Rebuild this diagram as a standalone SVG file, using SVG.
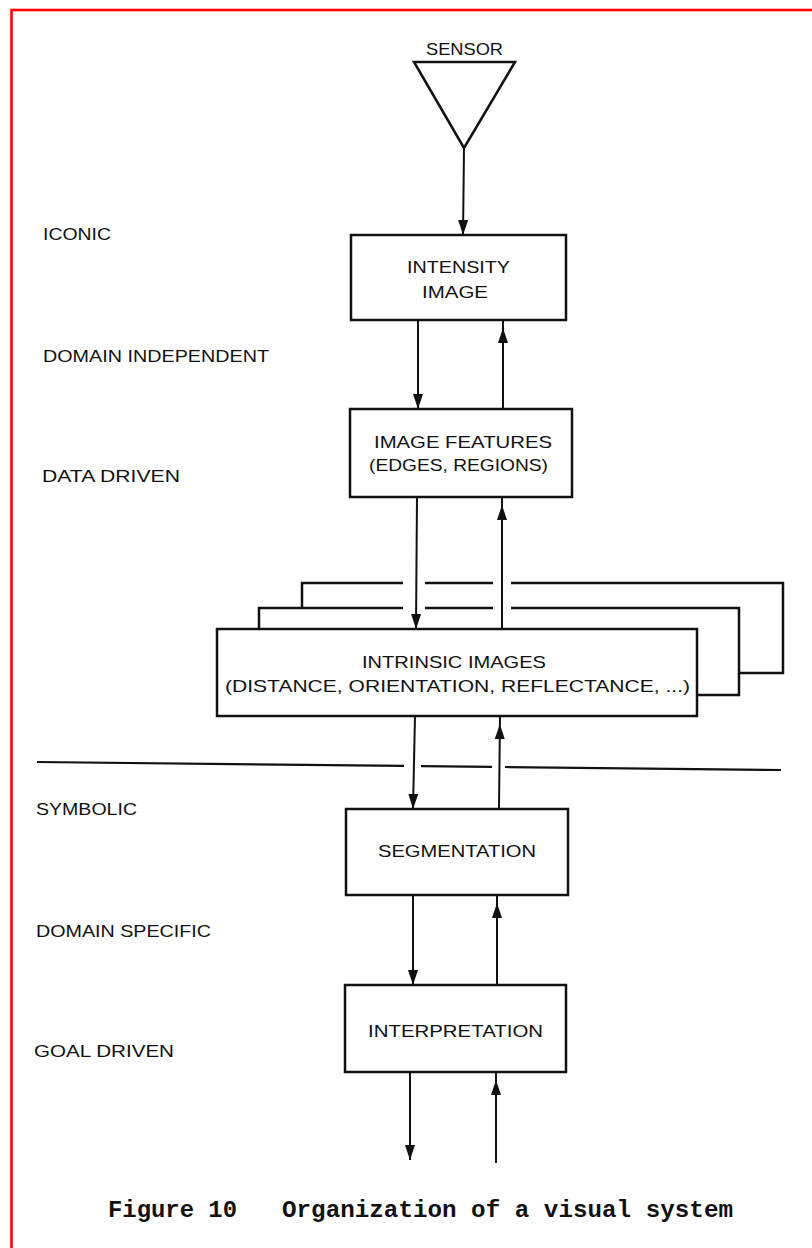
<svg xmlns="http://www.w3.org/2000/svg" width="812" height="1248" viewBox="0 0 812 1248">
<style>
.bg{fill:#ffffff}
.frame{fill:none;stroke:#ff0000;stroke-width:2.6}
.box{fill:#ffffff;stroke:#111111;stroke-width:2.5}
.edge{fill:none;stroke:#111111;stroke-width:2.5}
.div{fill:none;stroke:#111111;stroke-width:2.2}
.ln{fill:none;stroke:#111111;stroke-width:2}
.lbl{font-family:"Liberation Sans",Arial,sans-serif;font-size:17px;fill:#111111}
.cap{font-family:"Liberation Mono","Courier New",monospace;font-size:24px;font-weight:bold;fill:#111111}
</style>
<defs>
<marker id="down" viewBox="0 -6 16 12" markerWidth="16" markerHeight="12" refX="15" refY="0" orient="auto" markerUnits="userSpaceOnUse"><path d="M0,-5 L15,0 L0,5 Z" fill="#111111"/></marker>
<marker id="up" viewBox="0 -6 24 12" markerWidth="24" markerHeight="12" refX="23" refY="0" orient="auto" markerUnits="userSpaceOnUse"><path d="M0,-5 L15,0 L0,5 Z" fill="#111111"/></marker>
</defs>
<rect class="bg" x="0" y="0" width="812" height="1248"/>
<rect class="frame" x="11.5" y="10" width="840" height="1280"/>

<g id="levels">
<text class="lbl" x="43" y="240" textLength="68" lengthAdjust="spacingAndGlyphs">ICONIC</text>
<text class="lbl" x="43" y="362" textLength="226" lengthAdjust="spacingAndGlyphs">DOMAIN INDEPENDENT</text>
<text class="lbl" x="42" y="482" textLength="138" lengthAdjust="spacingAndGlyphs">DATA DRIVEN</text>
<text class="lbl" x="36" y="815" textLength="101" lengthAdjust="spacingAndGlyphs">SYMBOLIC</text>
<text class="lbl" x="36" y="937" textLength="175" lengthAdjust="spacingAndGlyphs">DOMAIN SPECIFIC</text>
<text class="lbl" x="34" y="1057" textLength="140" lengthAdjust="spacingAndGlyphs">GOAL DRIVEN</text>
</g>

<g id="divider">
<path class="div" d="M37,762 L404,765.9 M421,766.1 L492,766.9 M505,767 L781,770"/>
</g>

<g id="sensor">
<text class="lbl" x="426" y="55" textLength="77" lengthAdjust="spacingAndGlyphs">SENSOR</text>
<path class="edge" d="M414,62 L515,62 L464,148 Z" stroke-linejoin="miter"/>
</g>

<g id="intensity-image">
<rect class="box" x="351" y="235" width="215" height="85"/>
<text class="lbl" x="407" y="273" textLength="103" lengthAdjust="spacingAndGlyphs">INTENSITY</text>
<text class="lbl" x="422" y="298" textLength="66" lengthAdjust="spacingAndGlyphs">IMAGE</text>
</g>

<g id="image-features">
<rect class="box" x="350" y="409" width="222" height="88"/>
<text class="lbl" x="374" y="448" textLength="178" lengthAdjust="spacingAndGlyphs">IMAGE FEATURES</text>
<text class="lbl" x="369" y="471" textLength="179" lengthAdjust="spacingAndGlyphs">(EDGES, REGIONS)</text>
</g>

<g id="intrinsic-images">
<path class="edge" d="M302,608 V583 H403 M425,583 H493 M511,583 H783 V673 H739"/>
<path class="edge" d="M259,629 V608 H403 M425,608 H493 M511,608 H739 V695 H697"/>
<rect class="box" x="217" y="629" width="480" height="87"/>
<text class="lbl" x="362" y="668" textLength="184" lengthAdjust="spacingAndGlyphs">INTRINSIC IMAGES</text>
<text class="lbl" x="225" y="692" textLength="465" lengthAdjust="spacingAndGlyphs">(DISTANCE, ORIENTATION, REFLECTANCE, ...)</text>
</g>

<g id="segmentation">
<rect class="box" x="346" y="809" width="222" height="86"/>
<text class="lbl" x="378" y="857" textLength="158" lengthAdjust="spacingAndGlyphs">SEGMENTATION</text>
</g>

<g id="interpretation">
<rect class="box" x="345" y="985" width="221" height="87"/>
<text class="lbl" x="368" y="1037" textLength="175" lengthAdjust="spacingAndGlyphs">INTERPRETATION</text>
</g>

<g id="connectors">
<path class="ln" d="M464,148 L463,235" marker-end="url(#down)"/>
<path class="ln" d="M418,320 L418,409" marker-end="url(#down)"/>
<path class="ln" d="M503,409 L503,320" marker-end="url(#up)"/>
<path class="ln" d="M417,497 L416,629" marker-end="url(#down)"/>
<path class="ln" d="M502,629 L502,497" marker-end="url(#up)"/>
<path class="ln" d="M415,716 L413,809" marker-end="url(#down)"/>
<path class="ln" d="M499,809 L500,716" marker-end="url(#up)"/>
<path class="ln" d="M413,895 L413,985" marker-end="url(#down)"/>
<path class="ln" d="M497,985 L497,895" marker-end="url(#up)"/>
<path class="ln" d="M410,1072 L410,1160" marker-end="url(#down)"/>
<path class="ln" d="M496,1163 L496,1072" marker-end="url(#up)"/>
</g>

<g id="caption">
<text class="cap" x="108" y="1217" textLength="129" lengthAdjust="spacingAndGlyphs">Figure 10</text>
<text class="cap" x="282" y="1217" textLength="451" lengthAdjust="spacingAndGlyphs">Organization of a visual system</text>
</g>
</svg>
